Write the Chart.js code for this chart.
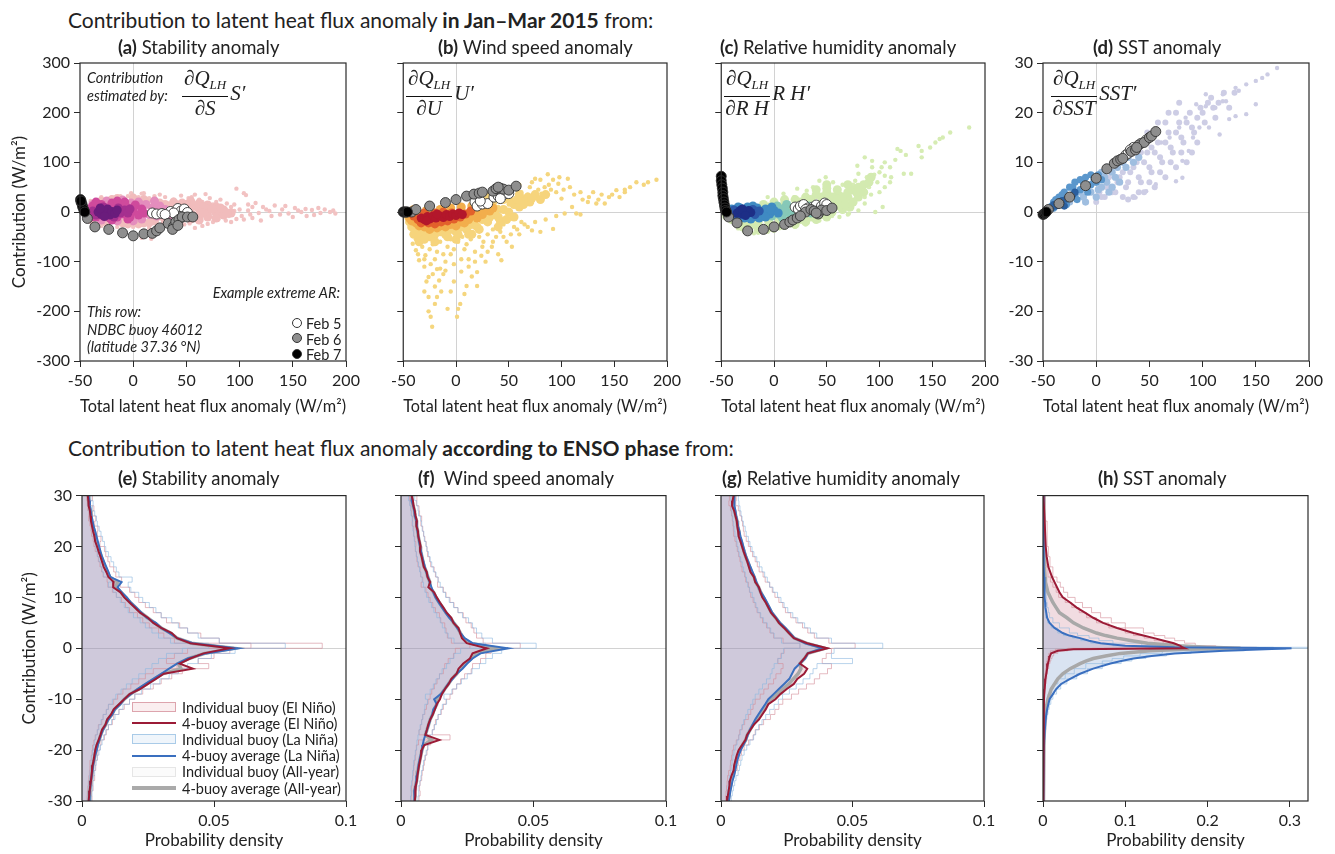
<!DOCTYPE html>
<html>
<head>
<meta charset="utf-8">
<script src="https://cdn.jsdelivr.net/npm/chart.js@4.4.1/dist/chart.umd.min.js"></script>
<style>
body { margin: 0; background: #fff; }
#fig { position: relative; width: 1335px; height: 854px; font-family: Lato, sans-serif; color: #222; overflow: hidden; }
canvas { position: absolute; }
.t { position: absolute; white-space: nowrap; line-height: 1; }
.row { font-size: 21px; }
.pt { font-size: 18.5px; }
.it { font-style: italic; font-size: 14.5px; line-height: 17.5px; }
.frac { position: absolute; display: flex; align-items: center; font-family: "Liberation Serif", "DejaVu Serif", serif; font-style: italic; font-size: 21px; }
.fr { display: inline-flex; flex-direction: column; align-items: center; margin-right: 2px; }
.num { border-bottom: 1.3px solid #111; padding: 0 2px; line-height: 22px; }
.den { line-height: 22px; }
.frac sub { font-size: 13px; vertical-align: -4px; }
.leg { position: absolute; }
.li { display: flex; align-items: center; height: 16.2px; font-size: 14.5px; white-space: nowrap; }
.sw { display: inline-block; width: 44px; margin-right: 6px; box-sizing: border-box; }
.bx { height: 10px; border: 1px solid; }
.ln { height: 0; border-top: 2px solid; }
.dot { position: absolute; width: 10px; height: 10px; border-radius: 50%; border: 1px solid #333; box-sizing: border-box; }
</style>
</head>
<body>
<div id="fig">
  <div class="t row" style="left:68px;top:9px">Contribution to latent heat flux anomaly <b>in Jan–Mar 2015</b> from:</div>
  <div class="t row" style="left:68px;top:437px">Contribution to latent heat flux anomaly <b>according to ENSO phase</b> from:</div>

  <canvas id="ca"></canvas><canvas id="cb"></canvas><canvas id="cc"></canvas><canvas id="cd"></canvas>
  <canvas id="ce"></canvas><canvas id="cf"></canvas><canvas id="cg"></canvas><canvas id="ch"></canvas>

  <div class="t pt" style="left:118px;top:38px"><b>(a)</b> Stability anomaly</div>
  <div class="t pt" style="left:438px;top:38px"><b>(b)</b> Wind speed anomaly</div>
  <div class="t pt" style="left:720px;top:38px"><b>(c)</b> Relative humidity anomaly</div>
  <div class="t pt" style="left:1093px;top:38px"><b>(d)</b> SST anomaly</div>
  <div class="t pt" style="left:118px;top:469px"><b>(e)</b> Stability anomaly</div>
  <div class="t pt" style="left:418px;top:469px"><b>(f)</b>&nbsp; Wind speed anomaly</div>
  <div class="t pt" style="left:722px;top:469px"><b>(g)</b> Relative humidity anomaly</div>
  <div class="t pt" style="left:1098px;top:469px"><b>(h)</b> SST anomaly</div>

  <div class="t it" style="left:87px;top:69px">Contribution<br>estimated by:</div>
  <div class="frac" style="left:182px;top:67px"><span class="fr"><span class="num">∂Q<sub>LH</sub></span><span class="den">∂S</span></span><span>S′</span></div>
  <div class="frac" style="left:406px;top:67px"><span class="fr"><span class="num">∂Q<sub>LH</sub></span><span class="den">∂U</span></span><span>U′</span></div>
  <div class="frac" style="left:724px;top:67px"><span class="fr"><span class="num">∂Q<sub>LH</sub></span><span class="den">∂R H</span></span><span>R H′</span></div>
  <div class="frac" style="left:1051px;top:67px"><span class="fr"><span class="num">∂Q<sub>LH</sub></span><span class="den">∂SST</span></span><span>SST′</span></div>

  <div class="t it" style="left:87px;top:303px">This row:<br>NDBC buoy 46012<br>(latitude 37.36 °N)</div>
  <div class="t it" style="right:995px;top:284px">Example extreme AR:</div>
  <span class="dot" style="left:292px;top:318px;background:#fff"></span>
  <span class="dot" style="left:292px;top:333px;background:#8f8f8f"></span>
  <span class="dot" style="left:292px;top:349px;background:#000"></span>
  <div class="t" style="left:306px;top:316px;font-size:14.5px;line-height:15.5px">Feb 5<br>Feb 6<br>Feb 7</div>

  <div class="leg" style="left:132px;top:699px">
    <div class="li"><span class="sw bx" style="border-color:#dda4ad;background:rgba(246,226,229,0.6)"></span>Individual buoy (El Niño)</div>
    <div class="li"><span class="sw ln" style="border-color:#9b1b36"></span>4-buoy average (El Niño)</div>
    <div class="li"><span class="sw bx" style="border-color:#a9cbe8;background:rgba(228,238,248,0.6)"></span>Individual buoy (La Niña)</div>
    <div class="li"><span class="sw ln" style="border-color:#3a6fbf"></span>4-buoy average (La Niña)</div>
    <div class="li"><span class="sw bx" style="border-color:#e6e6e6;background:rgba(248,248,248,0.6)"></span>Individual buoy (All-year)</div>
    <div class="li"><span class="sw ln" style="border-color:#aaaaaa;border-top-width:4px"></span>4-buoy average (All-year)</div>
  </div>
</div>

<script>
// ---------- tick values ----------
var fluxXTicks = [-50, 0, 50, 100, 150, 200];
var fluxYTicks = [-300, -200, -100, 0, 100, 200, 300];
var sstYTicks = [-30, -20, -10, 0, 10, 20, 30];
var densYTicks = [-30, -20, -10, 0, 10, 20, 30];
var densXTicks = [0, 0.05, 0.1];
var sstDensXTicks = [0, 0.1, 0.2, 0.3];

// ---------- top row: scatter clouds [total anomaly, contribution] ----------
var aScatter = [[55,30],[62,25],[68,36],[72,28],[88,17],[97,47],[106,34],[104,38],[100,5],[108,3],[112,10],[122,10],[128,2],[133,13],[140,5],[146,-3],[152,8],[158,0],[163,-8],[168,4],[176,-2],[185,0],[190,-3],[85,-10],[87,-17],[97,-14],[75,-20],[70,-24],[62,-20],[53,-23],[110,-5],[118,-2],[120,-17],[95,2],[80,5],[75,15],[17,-54],[8,-52],[-22,-37],[10,38],[5,30],[8,37],[-5,32],[20,32],[30,30],[45,33],[92,10],[82,25],[65,-28],[58,-32],[115,18],[130,-8],[150,-10],[170,-6],[180,5],
  [60,15],[65,5],[72,-5],[78,20],[83,-8],[90,-8],[95,15],[102,-8],[108,15],[112,-12],[125,5],[138,-5],[143,12],[155,3],[162,6],[174,8],[188,3],[-30,-28],[-15,-30],[0,-30],[15,-32],[28,-22],[48,-25],[58,-15],[-40,22],[-30,30],[-12,32],[-2,38],[15,28],[25,35],[38,25],[52,28],[58,35],[65,20],[80,-15],[92,-20],[104,-15]];
var aBlob = [[30,15],[30,0],[30,-15],[38,20],[38,8],[38,-8],[38,-20],[46,18],[46,5],[46,-10],[54,22],[54,10],[54,-2],[54,-14],[62,18],[62,6],[62,-6],[62,-16],[70,14],[70,2],[70,-10],[78,10],[78,-2],[78,-12],[85,4],[85,-6],[92,-2],[20,22],[20,-18],[10,25],[0,28],[-15,27],[-30,22],[-40,-15],[-25,-22],[-5,-24],[10,-22],[22,5],
  [25,18],[25,-8],[34,12],[34,-2],[42,14],[42,-14],[50,15],[50,-6],[58,12],[58,-10],[66,10],[66,-2],[74,6],[82,8],[88,-2],[15,-22],[5,-24],[-10,-22],[-20,25],[0,-10],[12,20]];
var aMidLight = [[5,20],[12,15],[18,8],[25,12],[30,5],[15,-5],[22,-8],[28,-3],[8,-14],[-2,18],[35,-8],[20,22],[0,-18],[-15,-18],[-30,-16],[-38,15],[-25,22],[-10,24]];
var aMid = [[-42,5],[-40,-5],[-38,12],[-35,-10],[-32,5],[-30,15],[-28,-8],[-25,8],[-22,-12],[-20,18],[-18,2],[-15,-10],[-12,12],[-10,-4],[-8,20],[-5,8],[-3,-10],[0,2],[2,14],[5,-6],[8,6],[-45,0],[-35,20],[-15,22],[-5,-14],[10,-2],[-40,-10],[-20,-16]];
var aDeep = [[-38,2],[-35,-6],[-12,-2],[-8,4],[-5,-2],[-14,8],[-18,-10],[-28,10],[-3,6]];
var aCore = [[-33,0],[-30,-5],[-29,4],[-26,-2],[-24,6],[-22,-6],[-20,1],[-17,-3],[-27,-9],[-31,8],[-15,4]];
var aFeb5 = [[18,-2],[22,-4],[27,-3],[35,1],[40,-6],[42,7],[45,2],[48,6],[51,-1],[44,-9],[38,-2],[30,-5]];
var aFeb6 = [[-43,-13],[-36,-30],[-23,-35],[-10,-42],[0,-48],[10,-44],[18,-43],[22,-38],[25,-32],[33,-23],[38,-29],[40,-20],[43,-15],[46,-10],[51,-10],[56,-10],[37,-35],[42,-27]];
var aFeb7 = [[-49.5,25],[-49,20],[-48,15],[-47.5,10],[-46.5,5],[-45.5,0],[-49,22]];

var bScatter = [[-24,-211],[-22.6,-231],[1,-211],[-26,-171],[-18,-171],[10,-149],[20,-149],[4,-185],[-26,-131],[-16,-138],[-15,-114],[20,-121],[43,-97],[53,-70],[72,-37],[80,-40],[92,-34],[103,-3],[114,-3],[125,20],[133,17],[141,17],[152,44],[160,40],[171,60],[190,65],[87,76],[75,67],[106,67],[97,57],[81,37],[100,27],[-41,-64],[-35,-97],[-38,-77],[-29,-87],[-10,-100],[-5,-85],[5,-95],[12,-110],[30,-80],[35,-60],[25,-70],[45,-50],[60,-45],[65,-25],[85,-15],[95,-8],[110,10],[120,25],[145,30],[160,45],[88,55],[70,50],[60,55],[-20,-150],[-5,-160],[15,-130],[-30,-110],[-12,-125],[40,-85],[-8,-195],[28,-100],[55,-30],[118,-5],[130,40],[178,55],[-33,-60],[-20,-95],[8,-75],
  [-40,-40],[-38,-55],[-32,-70],[-28,-50],[-25,-75],[-22,-65],[-18,-80],[-15,-60],[-12,-85],[-8,-70],[-5,-55],[-2,-75],[2,-60],[6,-50],[10,-65],[14,-55],[18,-80],[22,-50],[26,-60],[30,-45],[34,-70],[38,-50],[42,-40],[48,-60],[52,-45],[58,-35],[62,-20],[68,-30],[75,-20],[-36,-85],[-30,-95],[-24,-105],[-18,-115],[-10,-118],[-2,-105],[5,-120],[12,-95],[18,-100],[24,-88],[-28,-140],[-22,-125],[-14,-160],[-2,-140],[8,-165],[-30,-160],[-20,-185],[-26,-200],[2,-195],[35,-35],[45,-25],[40,10],[50,15],[62,40],[68,35],[78,45],[84,50],[90,45],[95,40],[102,45],[108,50],[112,35],[118,40],[126,30],[135,25],[138,35],[148,35],[155,30],[165,50],[182,60],[72,60],[80,65],[92,65],[98,70]];
var bBlob = [[-45,-10],[-42,-30],[-40,-45],[-35,-50],[-30,-40],[-25,-50],[-20,-45],[-15,-40],[-10,-45],[-5,-35],[0,-40],[5,-30],[10,-35],[15,-25],[20,-30],[25,-15],[30,-20],[35,-5],[40,-10],[45,5],[50,0],[55,15],[60,10],[65,25],[70,20],[45,25],[35,20],[25,10],[30,30],[50,30],[60,35],[75,35],[-35,-60],[-20,-60],[0,-55],[15,-45],[40,-30],[55,-10],
  [-44,-20],[-40,-25],[-36,-35],[-30,-55],[-26,-35],[-20,-35],[-12,-30],[-8,-50],[2,-45],[8,-25],[12,-45],[18,-15],[22,-35],[28,0],[32,-10],[38,5],[42,-18],[48,-15],[52,20],[58,25],[64,15],[68,30],[72,28],[80,25],[85,35],[20,0],[10,-15],[0,-25]];
var bMidLight = [[-45,-5],[-42,-18],[-40,5],[-35,-28],[-30,-30],[-22,-30],[-15,-28],[-5,-25],[5,-20],[12,-15],[18,-5],[22,5],[28,10],[15,12],[5,10],[-5,8],[-15,5],[-28,3],[-38,-2],[10,-8],[25,-5],[32,2],
  [-44,-12],[-38,-22],[-32,-10],[-25,-35],[-18,-32],[-10,-30],[0,-28],[8,-22],[15,-5],[20,-12],[26,2],[30,12],[35,8]];
var bMid = [[-40,-8],[-36,-15],[-33,-22],[-30,-2],[-26,-22],[-20,-24],[-14,-20],[-8,-18],[-2,-14],[4,-10],[9,-4],[14,2],[-12,0],[-4,-2],[2,-4],[-20,-2],[-42,-2]];
var bCore = [[-33,-12],[-30,-15],[-27,-9],[-25,-14],[-22,-8],[-19,-12],[-15,-8],[-12,-11],[-9,-5],[-6,-9],[-3,-4],[0,-7],[3,-2],[6,-5],[-28,-18],[-18,-4]];
var bFeb5 = [[18,20],[20,12],[25,16],[30,17],[36,30],[40,32],[45,35],[50,37],[42,27],[23,22]];
var bFeb6 = [[-42,0],[-38,5],[-25,12],[-10,19],[0,25],[10,32],[17,36],[22,38],[25,40],[35,42],[38,47],[42,48],[45,46],[50,44],[57,52],[40,50]];
var bFeb7 = [[-50,0],[-49,0],[-48,0],[-47,0],[-46,0]];

var cScatter = [[185,170],[167,160],[157,147],[153,140],[148,130],[140,123],[137,133],[130,77],[123,77],[117,127],[120,123],[111,70],[105,73],[102,90],[93,103],[93,90],[86,110],[79,93],[77,63],[80,77],[96,0],[103,10],[86,30],[83,43],[71,-3],[68,13],[63,37],[56,60],[49,70],[43,63],[37,50],[31,43],[22,47],[19,30],[9,37],[-6,30],[-12,10],[-25,-43],[-19,-43],[-34,-33],[-6,-40],[43,-17],[62,-10],[80,3],[86,17],[51,30],
  [100,80],[110,90],[95,75],[88,70],[105,100],[115,105],[125,115],[98,60],[90,50],[75,55],[65,55],[110,60],[140,110],[160,150],[100,40],[92,35],[105,50],[-28,-40],[-15,-42],[0,-38],[10,-32],[20,-30],[30,-25],[55,-8],[70,-5]];
var cBlob = [[-35,-20],[-30,-30],[-25,-35],[-15,-35],[-5,-32],[5,-28],[15,-22],[25,-15],[35,-10],[45,-5],[55,0],[65,5],[72,10],[-10,15],[0,20],[10,25],[20,25],[30,30],[40,35],[50,40],[60,35],[70,30],[45,20],[55,20],[65,20],[35,15],[25,10],[15,5],[60,45],[75,45],[70,55],[50,55],[40,45],[80,30],[-20,-25],[30,-20],[20,-25],
  [-25,-25],[-15,-20],[-5,-20],[5,-15],[15,-10],[25,-5],[35,0],[45,8],[55,10],[62,12],[68,15],[75,20],[78,40],[85,40],[65,30],[55,30],[45,30],[35,25],[25,20],[10,15],[5,10],[-5,10],[60,25],[80,50],[85,55],[90,60],[92,70],[70,40],[50,48],[-30,-25],[-40,-15],[-45,-8],[40,-15],[50,-10]];
var cMidLight = [[0,5],[5,-5],[10,8],[15,-2],[20,10],[25,0],[30,8],[35,-2],[40,8],[45,3],[12,15],[28,15],[-2,-8],[18,-10],[8,-12],
  [-5,2],[3,12],[18,0],[33,12],[38,0],[22,-5],[10,0],[42,-3],[-8,-3],[50,8]];
var cMid = [[-45,0],[-42,-6],[-40,6],[-36,-10],[-32,8],[-28,-12],[-25,10],[-20,-10],[-16,8],[-12,-6],[-8,6],[-4,-4],[0,3],[-18,0],[-10,0],[-30,0],[-2,10],[-14,-12],
  [-38,-2],[-34,10],[-22,-14],[-8,-10],[-20,12],[-44,5],[-3,4],[4,-2]];
var cDeep = [[-38,4],[-34,-8],[-20,5],[-18,-5],[-14,2],[-40,-3]];
var cCore = [[-35,-2],[-32,3],[-30,-4],[-28,1],[-26,-3],[-24,3],[-22,-1],[-30,6],[-27,-7]];
var cFeb5 = [[20,10],[23,6],[25,12],[28,15],[32,8],[37,10],[40,14],[45,12],[48,18],[50,15],[30,5]];
var cFeb6 = [[-43,-10],[-35,-22],[-25,-38],[-10,-35],[0,-30],[10,-25],[15,-20],[18,-16],[22,-12],[30,0],[35,5],[38,2],[42,-4],[45,4],[50,3],[55,8],[40,-2],[25,-8]];
var cFeb7 = [[-50,72],[-50,63],[-49.5,55],[-49,48],[-48.5,40],[-48.5,33],[-48,27],[-47.5,20],[-47,14],[-46.5,8],[-46,3],[-45,0]];

var dScatter = [[170,29],[161,27.7],[156,27],[150,26.4],[141,25.7],[131,25],[119,23.7],[119,22.3],[122,22.3],[103,23.7],[103,21.3],[94,21.7],[97,17],[106,17],[125,18.7],[131,19.3],[141,19.7],[150,21.7],[81,6.9],[75,6.2],[84,19],[78,17],[69,15],[61,14],[87,12.3],[81,10.3],[47,4.2],[37,2.9],[56,5.6],[91,15],[112,21],[134,24.4],[116,15.6]];
var dBlob = [[5,3],[10,5],[15,4],[20,6],[25,8],[30,6],[35,9],[40,7],[45,10],[50,9],[55,12],[60,11],[65,14],[70,13],[75,16],[80,15],[85,18],[90,17],[95,19],[100,20],[105,22],[110,21],[45,14],[55,16],[65,18],[75,20],[40,4],[50,6],[60,8],[70,10],[80,12],[35,12],[25,3],
  [0,2],[3,4],[8,3],[12,7],[18,4],[22,7],[28,5],[32,8],[38,10],[42,6],[48,12],[52,8],[58,14],[62,10],[68,16],[72,12],[78,18],[82,14],[88,20],[92,16],[98,21],[102,18],[108,23],[112,19],[115,22],[120,24],[125,21],[130,24],[85,10],[90,12],[95,14],[65,7],[75,9],[55,5],[45,4],[35,3],[30,2.5],[58,18],[68,20],[78,22],[48,16],[42,12],[52,13]];
var dMidLight = [[-10,2],[-5,4],[0,3],[0,6],[5,5],[5,8],[10,6],[10,9],[15,8],[20,9],[25,10],[15,5],[-15,4],[30,11],
  [-12,3],[-8,5],[2,4.5],[8,7],[12,4],[18,7],[22,6],[28,9],[35,10],[40,11],[-20,3],[-25,2]];
var dMid = [[-45,0.5],[-40,0.8],[-40,2],[-35,1.5],[-35,3],[-30,2],[-30,4],[-25,3],[-25,5],[-20,3.5],[-20,6],[-15,4.5],[-15,6.5],[-10,5],[-10,7],[-5,5.5],[-5,7.5],[0,6],[-28,1.5],[-18,2.5],
  [-42,1.2],[-38,2.5],[-32,3.5],[-22,5],[-12,6],[-8,4],[-2,6.5],[2,7.5],[5,6.5]];
var dCore = [[-45,0.3],[-42,0.8],[-38,1.2],[-35,1.8],[-32,2.3],[-28,2.6],[-25,3],[-22,3.5],[-30,1.2],[-40,1.5],[-20,4]];
var dFeb5 = [[28,11.5],[30,11.8],[35,13],[42,13.8],[47,14.5],[32,12.5]];
var dFeb6 = [[-45,0.5],[-35,1.7],[-25,3],[-10,5.3],[0,6.8],[10,8.7],[17,9.8],[20,10.3],[23,10.6],[25,10.8],[33,12.2],[37,12.5],[40,13.5],[45,14],[50,15],[52,15.3],[56,16.2],[38,13]];
var dFeb7 = [[-50,-0.5],[-49,-0.4],[-48,-0.2],[-47,0]];

// ---------- bottom row: probability densities ----------
var contribBins = [30,29,28,27,26,25,24,23,22,21,20,19,18,17,16,15,14,13,12,11,10,9,8,7,6,5,4,3,2,1,0,-1,-2,-3,-4,-5,-6,-7,-8,-9,-10,-11,-12,-13,-14,-15,-16,-17,-18,-19,-20,-21,-22,-23,-24,-25,-26,-27,-28,-29,-30];

var eNino = [.0022,.0024,.0025,.0030,.0032,.0034,.0038,.0042,.0047,.0050, .0057,.0063,.0070,.0076,.0082,.0092,.0100,.0120,.0118,.0146, .0160,.0180,.0200,.0220,.0250,.0270,.0300,.0340,.0360,.0410, .0560, .0460,.0410,.0370,.0420,.0310,.0280,.0250,.0220,.0180,.0160, .0140,.0120,.0110,.0095,.0089,.0076,.0070,.0063,.0055,.0050, .0047,.0044,.0040,.0038,.0036,.0034,.0031,.0029,.0027,.0025];
var eNina = [.0025,.0028,.0030,.0033,.0036,.0040,.0044,.0050,.0055,.0060, .0065,.0070,.0076,.0084,.0092,.0100,.0108,.0150,.0135,.0150, .0170,.0185,.0205,.0225,.0245,.0280,.0300,.0330,.0360,.0420, .0590, .0470,.0400,.0360,.0330,.0300,.0270,.0240,.0210,.0185,.0160, .0145,.0125,.0115,.0100,.0090,.0080,.0072,.0066,.0060,.0056, .0050,.0046,.0042,.0040,.0037,.0034,.0032,.0030,.0029,.0028];
var eAll = [.0024,.0026,.0028,.0032,.0034,.0037,.0041,.0046,.0051,.0055, .0061,.0067,.0073,.0080,.0087,.0096,.0104,.0135,.0127,.0148, .0165,.0183,.0203,.0223,.0248,.0275,.0300,.0335,.0360,.0415, .0575, .0465,.0405,.0365,.0375,.0305,.0275,.0245,.0215,.0183,.0160, .0143,.0123,.0113,.0098,.0090,.0078,.0071,.0065,.0058,.0053, .0049,.0045,.0041,.0039,.0037,.0034,.0032,.0030,.0028,.0027];
var eNinoBuoyA = [.0030,.0040,.0028,.0045,.0040,.0052,.0048,.0060,.0058,.0072, .0068,.0085,.0090,.0098,.0105,.0120,.0128,.0150,.0145,.0180, .0200,.0215,.0240,.0270,.0300,.0320,.0370,.0400,.0450,.0520, .0910, .0560,.0500,.0440,.0480,.0380,.0340,.0300,.0270,.0230,.0200, .0180,.0160,.0140,.0120,.0115,.0100,.0092,.0085,.0072,.0068, .0060,.0058,.0050,.0052,.0045,.0048,.0040,.0042,.0036,.0038];
var eNinoBuoyB = [.0015,.0018,.0020,.0022,.0026,.0025,.0030,.0034,.0036,.0042, .0045,.0050,.0058,.0062,.0068,.0074,.0080,.0095,.0098,.0115, .0130,.0150,.0165,.0180,.0210,.0230,.0255,.0290,.0310,.0350, .0640, .0400,.0350,.0320,.0360,.0270,.0240,.0215,.0185,.0155,.0135, .0120,.0100,.0092,.0080,.0075,.0062,.0058,.0050,.0045,.0040, .0038,.0035,.0030,.0030,.0028,.0026,.0024,.0022,.0020,.0019];
var eNinaBuoyA = [.0035,.0034,.0042,.0040,.0048,.0055,.0058,.0065,.0072,.0078, .0085,.0090,.0100,.0110,.0120,.0130,.0140,.0190,.0175,.0185, .0215,.0230,.0255,.0280,.0300,.0340,.0365,.0400,.0440,.0520, .0770, .0580,.0490,.0440,.0400,.0365,.0330,.0295,.0260,.0225,.0200, .0180,.0155,.0140,.0125,.0112,.0100,.0090,.0082,.0076,.0070, .0064,.0058,.0054,.0050,.0048,.0044,.0042,.0040,.0038,.0036];
var eNinaBuoyB = [.0018,.0022,.0022,.0026,.0028,.0030,.0034,.0038,.0042,.0046, .0050,.0054,.0058,.0064,.0070,.0076,.0082,.0115,.0100,.0118, .0130,.0145,.0160,.0175,.0195,.0220,.0240,.0265,.0290,.0335, .0480, .0380,.0320,.0290,.0265,.0240,.0215,.0190,.0168,.0148,.0128, .0115,.0100,.0092,.0080,.0072,.0064,.0058,.0052,.0048,.0044, .0040,.0037,.0034,.0032,.0030,.0028,.0026,.0024,.0023,.0022];

var fNino = [.0040,.0045,.0047,.0052,.0055,.0060,.0058,.0064,.0065,.0070, .0074,.0072,.0078,.0082,.0086,.0097,.0100,.0110,.0103,.0125, .0135,.0147,.0160,.0172,.0190,.0198,.0217,.0223,.0230,.0248, .0324, .0270,.0260,.0235,.0217,.0210,.0190,.0180,.0166,.0154,.0147, .0135,.0128,.0120,.0110,.0103,.0098,.0092,.0145,.0088,.0078, .0076,.0072,.0068,.0065,.0062,.0060,.0056,.0053,.0055,.0052];
var fNina = [.0042,.0040,.0046,.0050,.0052,.0058,.0060,.0062,.0066,.0068, .0072,.0076,.0080,.0085,.0090,.0095,.0102,.0108,.0115,.0122, .0130,.0142,.0155,.0168,.0182,.0200,.0212,.0225,.0240,.0270, .0405, .0300,.0270,.0250,.0232,.0210,.0195,.0178,.0165,.0150,.0125, .0135,.0122,.0118,.0110,.0105,.0098,.0092,.0086,.0082,.0080, .0074,.0070,.0066,.0064,.0060,.0058,.0055,.0050,.0052,.0050];
var fAll = [.0041,.0042,.0046,.0051,.0053,.0059,.0059,.0063,.0065,.0069, .0073,.0074,.0079,.0083,.0088,.0096,.0101,.0109,.0109,.0123, .0132,.0144,.0157,.0170,.0186,.0199,.0214,.0224,.0235,.0259, .0365, .0285,.0265,.0242,.0225,.0210,.0192,.0179,.0165,.0152,.0136, .0135,.0125,.0119,.0110,.0104,.0098,.0092,.0115,.0085,.0079, .0075,.0071,.0067,.0064,.0061,.0059,.0055,.0051,.0053,.0051];
var fNinoBuoyA = [.0055,.0060,.0058,.0068,.0070,.0078,.0075,.0082,.0085,.0090, .0095,.0098,.0100,.0108,.0112,.0125,.0130,.0140,.0138,.0160, .0170,.0185,.0200,.0215,.0235,.0245,.0265,.0275,.0285,.0310, .0450, .0340,.0320,.0300,.0270,.0265,.0240,.0225,.0210,.0195,.0185, .0170,.0160,.0152,.0140,.0130,.0125,.0118,.0185,.0112,.0100, .0098,.0092,.0088,.0085,.0080,.0078,.0072,.0070,.0072,.0068];
var fNinoBuoyB = [.0028,.0032,.0034,.0038,.0040,.0044,.0042,.0048,.0048,.0052, .0056,.0054,.0058,.0060,.0064,.0072,.0074,.0082,.0076,.0094, .0102,.0110,.0120,.0130,.0145,.0150,.0165,.0170,.0175,.0190, .0260, .0205,.0198,.0178,.0165,.0160,.0145,.0136,.0126,.0116,.0110, .0102,.0096,.0090,.0082,.0078,.0074,.0068,.0110,.0066,.0058, .0056,.0054,.0050,.0048,.0046,.0044,.0042,.0040,.0040,.0038];
var fNinaBuoyA = [.0056,.0052,.0060,.0064,.0066,.0074,.0078,.0080,.0086,.0088, .0094,.0098,.0104,.0110,.0116,.0122,.0132,.0140,.0148,.0158, .0168,.0182,.0198,.0215,.0232,.0255,.0270,.0285,.0305,.0345, .0510, .0380,.0345,.0320,.0296,.0268,.0250,.0228,.0210,.0192,.0162, .0172,.0156,.0150,.0140,.0134,.0126,.0118,.0110,.0105,.0102, .0095,.0090,.0085,.0082,.0077,.0075,.0071,.0065,.0067,.0064];
var fNinaBuoyB = [.0030,.0028,.0033,.0036,.0038,.0042,.0044,.0045,.0048,.0050, .0052,.0055,.0058,.0062,.0066,.0070,.0075,.0080,.0085,.0090, .0096,.0105,.0115,.0124,.0135,.0148,.0156,.0166,.0178,.0200, .0320, .0225,.0200,.0185,.0172,.0155,.0145,.0132,.0122,.0110,.0092, .0100,.0090,.0088,.0082,.0078,.0072,.0068,.0064,.0060,.0059, .0054,.0052,.0048,.0047,.0044,.0043,.0040,.0037,.0038,.0036];

var gNino = [.0048,.0044,.0042,.0050,.0055,.0060,.0062,.0065,.0067,.0074, .0080,.0086,.0093,.0100,.0106,.0112,.0125,.0130,.0144,.0150, .0157,.0170,.0180,.0190,.0207,.0220,.0240,.0258,.0277,.0328, .0405, .0330,.0316,.0300,.0328,.0316,.0290,.0277,.0250,.0226,.0207, .0180,.0170,.0157,.0144,.0125,.0112,.0099,.0093,.0080,.0067, .0060,.0055,.0050,.0048,.0040,.0034,.0032,.0029,.0026,.0023];
var gNina = [.0050,.0050,.0052,.0055,.0058,.0062,.0065,.0070,.0074,.0080, .0085,.0090,.0096,.0104,.0112,.0120,.0128,.0135,.0142,.0152, .0165,.0175,.0185,.0195,.0210,.0225,.0245,.0262,.0280,.0320, .0385, .0330,.0320,.0300,.0280,.0270,.0260,.0240,.0220,.0200,.0180, .0168,.0155,.0142,.0130,.0120,.0110,.0102,.0095,.0085,.0075, .0068,.0062,.0058,.0054,.0050,.0044,.0040,.0036,.0033,.0030];
var gAll = [.0049,.0047,.0047,.0052,.0056,.0061,.0063,.0068,.0070,.0077, .0082,.0088,.0094,.0102,.0109,.0116,.0126,.0132,.0143,.0151, .0161,.0172,.0182,.0192,.0208,.0222,.0242,.0260,.0278,.0324, .0395, .0330,.0318,.0300,.0304,.0293,.0275,.0258,.0235,.0213,.0193, .0174,.0162,.0150,.0137,.0122,.0111,.0100,.0094,.0082,.0071, .0064,.0058,.0054,.0051,.0045,.0039,.0036,.0032,.0030,.0027];
var gNinoBuoyA = [.0062,.0058,.0056,.0066,.0072,.0078,.0082,.0085,.0088,.0096, .0104,.0112,.0120,.0130,.0138,.0145,.0160,.0168,.0185,.0195, .0205,.0220,.0235,.0245,.0265,.0285,.0310,.0330,.0355,.0410, .0510, .0420,.0400,.0385,.0420,.0405,.0375,.0355,.0325,.0295,.0268, .0235,.0220,.0205,.0188,.0162,.0146,.0130,.0122,.0105,.0088, .0078,.0072,.0066,.0062,.0052,.0045,.0042,.0038,.0034,.0030];
var gNinoBuoyB = [.0034,.0032,.0030,.0036,.0040,.0043,.0045,.0047,.0048,.0053, .0058,.0062,.0067,.0072,.0076,.0080,.0090,.0094,.0104,.0108, .0113,.0122,.0130,.0137,.0149,.0158,.0173,.0186,.0200,.0236, .0300, .0240,.0228,.0216,.0236,.0228,.0209,.0200,.0180,.0163,.0149, .0130,.0122,.0113,.0104,.0090,.0081,.0071,.0067,.0058,.0048, .0043,.0040,.0036,.0035,.0029,.0025,.0023,.0021,.0019,.0017];
var gNinaBuoyA = [.0064,.0066,.0068,.0072,.0076,.0080,.0085,.0092,.0096,.0104, .0110,.0118,.0125,.0136,.0146,.0156,.0166,.0176,.0185,.0198, .0215,.0228,.0240,.0254,.0273,.0292,.0318,.0340,.0364,.0420, .0615, .0430,.0420,.0500,.0365,.0350,.0338,.0312,.0286,.0260,.0234, .0218,.0202,.0185,.0170,.0156,.0143,.0132,.0124,.0110,.0098, .0088,.0080,.0075,.0070,.0065,.0057,.0052,.0047,.0043,.0039];
var gNinaBuoyB = [.0036,.0036,.0038,.0040,.0042,.0045,.0047,.0050,.0053,.0058, .0061,.0065,.0069,.0075,.0081,.0086,.0092,.0097,.0102,.0109, .0119,.0126,.0133,.0140,.0151,.0162,.0176,.0189,.0202,.0230, .0300, .0238,.0230,.0216,.0202,.0194,.0187,.0173,.0158,.0144,.0130, .0121,.0112,.0102,.0094,.0086,.0079,.0073,.0068,.0061,.0054, .0049,.0045,.0042,.0039,.0036,.0032,.0029,.0026,.0024,.0022];

var sstBins = [30,25,20,18,16,14,13,12,11,10,9,8,7,6,5,4,3,2.5,2,1.5,1,0.5,0.2,0,-0.2,-0.5,-1,-1.5,-2,-2.5,-3,-4,-5,-6,-7,-8,-9,-10,-11,-12,-13,-14,-16,-18,-20,-25,-30];
var hNino = [.0005,.0020,.0033,.0045,.0065,.0110,.0140,.0170,.0200,.0240, .0330,.0410,.0510,.0610,.0730,.0900,.1100,.1220,.1350,.1470, .1590,.1670,.1690,.1720,.0370,.0180,.0100,.0085,.0075,.0068, .0060,.0050,.0040,.0030,.0025,.0020,.0015,.0012,.0010,.0008, .0006,.0005,.0004,.0003,.0003,.0002,.0001];
var hNina = [.0002,.0005,.0008,.0010,.0012,.0014,.0015,.0018,.0020,.0023, .0026,.0030,.0040,.0050,.0080,.0140,.0240,.0320,.0450,.0560, .0700,.1000,.1600,.3020,.2700,.2200,.1600,.1320,.1100,.0950, .0820,.0610,.0450,.0330,.0220,.0160,.0120,.0080,.0065,.0050, .0040,.0032,.0022,.0015,.0010,.0005,.0003];
var hAll = [.0003,.0008,.0012,.0015,.0018,.0025,.0030,.0045,.0060,.0090, .0120,.0160,.0200,.0290,.0370,.0490,.0650,.0760,.0900,.1080, .1270,.1650,.2000,.2400,.1700,.1300,.0940,.0760,.0610,.0520, .0450,.0330,.0240,.0180,.0140,.0100,.0080,.0060,.0048,.0040, .0030,.0025,.0018,.0012,.0010,.0005,.0003];
var hNinoBuoyA = [.0010,.0030,.0050,.0065,.0085,.0120,.0170,.0210,.0250,.0300, .0390,.0480,.0590,.0700,.0830,.1000,.1220,.1350,.1480,.1600, .1720,.1850,.2100,.2600,.0600,.0300,.0180,.0130,.0110,.0095, .0085,.0070,.0055,.0045,.0035,.0030,.0022,.0018,.0015,.0012, .0010,.0008,.0006,.0005,.0004,.0003,.0002];
var hNinoBuoyB = [.0003,.0010,.0020,.0028,.0040,.0060,.0090,.0120,.0160,.0190, .0270,.0350,.0440,.0530,.0650,.0800,.1000,.1100,.1230,.1350, .1460,.1550,.1600,.1900,.0300,.0150,.0090,.0070,.0060,.0052, .0045,.0038,.0030,.0022,.0018,.0014,.0010,.0008,.0007,.0005, .0004,.0003,.0003,.0002,.0002,.0001,.0001];
var hNinaBuoyA = [.0005,.0010,.0015,.0018,.0022,.0025,.0028,.0032,.0036,.0040, .0045,.0050,.0065,.0080,.0120,.0200,.0320,.0420,.0560,.0680, .0850,.1200,.1900,.3220,.2950,.2450,.1800,.1500,.1250,.1080, .0950,.0720,.0540,.0410,.0290,.0215,.0165,.0120,.0095,.0075, .0060,.0048,.0035,.0025,.0018,.0010,.0006];
var hNinaBuoyB = [.0001,.0002,.0004,.0005,.0006,.0008,.0009,.0010,.0012,.0014, .0016,.0018,.0025,.0032,.0055,.0100,.0180,.0250,.0360,.0460, .0580,.0850,.1400,.2800,.2500,.2000,.1450,.1180,.0980,.0840, .0720,.0520,.0380,.0270,.0180,.0125,.0090,.0060,.0048,.0036, .0028,.0022,.0015,.0010,.0007,.0003,.0002];

// ---------- shared bits ----------
Chart.defaults.font.family = 'Lato';
Chart.defaults.color = '#222';

const frame = {
  id: 'frame',
  afterDraw(chart) {
    const { ctx, chartArea: a } = chart;
    ctx.save();
    ctx.strokeStyle = '#2a2a2a';
    ctx.lineWidth = 1.2;
    ctx.strokeRect(a.left, a.top, a.right - a.left, a.bottom - a.top);
    ctx.restore();
  }
};

function axis(o) {
  return {
    type: 'linear',
    min: o.min,
    max: o.max,
    afterFit: s => { if (s.isHorizontal()) s.height = o.size; else s.width = o.size; },
    afterBuildTicks: s => { s.ticks = o.ticks.map(v => ({ value: v })); },
    border: { display: false },
    grid: {
      color: c => (o.zero && c.tick && c.tick.value === 0) ? '#d2d2d2' : 'rgba(0,0,0,0)',
      tickColor: '#2a2a2a',
      tickLength: 6,
      lineWidth: 1
    },
    ticks: {
      callback: v => o.labels ? String(v) : '',
      font: { size: 16 },
      color: '#222',
      padding: 4,
      maxRotation: 0,
      autoSkip: false
    },
    title: {
      display: !!o.title,
      text: o.title,
      font: { size: 17 },
      color: '#222',
      padding: { top: 2, bottom: 2 }
    }
  };
}

function place(id, b) {
  const c = document.getElementById(id);
  c.width = b.yw + b.w + b.padR;
  c.height = b.padT + b.h + b.xh;
  c.style.left = (b.left - b.yw) + 'px';
  c.style.top = (b.top - b.padT) + 'px';
  return c;
}

function baseOptions(b) {
  return {
    responsive: false,
    animation: false,
    devicePixelRatio: 1,
    layout: { padding: { top: b.padT, right: b.padR, left: 0, bottom: 0 } },
    plugins: { legend: { display: false }, tooltip: { enabled: false } },
    events: []
  };
}

var arColors = ['#ffffff', '#8e8e8e', '#000000'];

function scatterPanel(id, b, layers, ar, y) {
  const sets = layers.map(L => ({
    data: L[0], pointBackgroundColor: L[1], pointBorderWidth: 0, pointRadius: L[2], pointBorderColor: L[1]
  }));
  ar.forEach((d, i) => sets.push({
    data: d, pointBackgroundColor: arColors[i], pointBorderColor: '#333', pointBorderWidth: 0.9, pointRadius: 5, clip: false
  }));
  sets.forEach((s, i) => { s.order = sets.length - i; });
  const opt = baseOptions(b);
  opt.scales = {
    x: axis({ min: -50, max: 200, ticks: fluxXTicks, labels: true, zero: true, size: b.xh, title: 'Total latent heat flux anomaly (W/m²)' }),
    y: axis({ min: y.min, max: y.max, ticks: y.ticks, labels: y.labels, zero: true, size: b.yw, title: y.title })
  };
  return new Chart(place(id, b), { type: 'scatter', data: { datasets: sets }, options: opt, plugins: [frame] });
}

function curve(bins, vals) { return bins.map((y, i) => ({ x: vals[i], y: y })); }

function densityPanel(id, b, bins, d, x, yTitle) {
  const ln = (vals, color, w, extra) => Object.assign({
    data: curve(bins, vals), borderColor: color, borderWidth: w, pointRadius: 0, fill: false, tension: 0
  }, extra || {});
  const sets = [
    ln(d.nino, 'rgba(0,0,0,0)', 1, { fill: 'origin', backgroundColor: 'rgba(205,125,145,0.27)' }),
    ln(d.nina, 'rgba(0,0,0,0)', 1, { fill: 'origin', backgroundColor: 'rgba(115,150,205,0.27)' }),
    ln(d.ninoA, 'rgba(212,140,152,0.6)', 1, { stepped: true }),
    ln(d.ninoB, 'rgba(212,140,152,0.6)', 1, { stepped: true }),
    ln(d.ninaA, 'rgba(140,184,224,0.6)', 1, { stepped: true }),
    ln(d.ninaB, 'rgba(140,184,224,0.6)', 1, { stepped: true }),
    ln(d.all, '#a8a8a8', 3.5),
    ln(d.nina, '#3a6fbf', 2),
    ln(d.nino, '#9b1b36', 2)
  ];
  sets.forEach((s, i) => { s.order = sets.length - i; });
  const opt = baseOptions(b);
  opt.indexAxis = 'y';
  opt.scales = {
    x: axis({ min: 0, max: x.max, ticks: x.ticks, labels: true, zero: false, size: b.xh, title: 'Probability density' }),
    y: axis({ min: -30, max: 30, ticks: densYTicks, labels: !!yTitle, zero: true, size: b.yw, title: yTitle })
  };
  return new Chart(place(id, b), { type: 'line', data: { datasets: sets }, options: opt, plugins: [frame] });
}

// ---------- top row ----------
var topRow = { top: 63, h: 298, padT: 14, padR: 20, xh: 58 };
var fluxY = { min: -300, max: 300, ticks: fluxYTicks };

scatterPanel('ca', Object.assign({ left: 80, w: 266, yw: 73 }, topRow),
  [[aScatter, '#f2c2c2', 2.2], [aBlob, '#f1bcbc', 4.5], [aMidLight, '#e48dbd', 4.5], [aMid, '#cf4a9c', 4.5], [aDeep, '#a5308f', 4.5], [aCore, '#6a1c7c', 4.5]],
  [aFeb5, aFeb6, aFeb7], Object.assign({ labels: true, title: 'Contribution (W/m²)' }, fluxY));

scatterPanel('cb', Object.assign({ left: 401, w: 266, yw: 14 }, topRow),
  [[bScatter, '#f5d67e', 2.2], [bBlob, '#f6d47c', 4.5], [bMidLight, '#f2ae4c', 4.5], [bMid, '#e3612b', 4.5], [bCore, '#b3172b', 4.5]],
  [bFeb5, bFeb6, bFeb7], Object.assign({ labels: false }, fluxY));

scatterPanel('cc', Object.assign({ left: 719, w: 266, yw: 14 }, topRow),
  [[cScatter, '#d6ecb3', 2.2], [cBlob, '#d3eab0', 4.5], [cMidLight, '#86c8b8', 4.5], [cMid, '#3f8ac2', 4.5], [cDeep, '#2c58a8', 4.5], [cCore, '#1d2e86', 4.5]],
  [cFeb5, cFeb6, cFeb7], Object.assign({ labels: false }, fluxY));

scatterPanel('cd', Object.assign({ left: 1043, w: 266, yw: 44 }, topRow),
  [[dScatter, '#cccce4', 2.2], [dBlob, '#cdcde5', 3], [dMidLight, '#9fbee0', 3.6], [dMid, '#5b97cc', 3.6], [dCore, '#2b5f9e', 3.6]],
  [dFeb5, dFeb6, dFeb7], { min: -30, max: 30, ticks: sstYTicks, labels: true });

// ---------- bottom row ----------
var botRow = { top: 494, h: 307, padT: 12, padR: 20, xh: 52 };
var densX = { max: 0.1, ticks: densXTicks };

densityPanel('ce', Object.assign({ left: 82, w: 264, yw: 65 }, botRow), contribBins,
  { nino: eNino, nina: eNina, all: eAll, ninoA: eNinoBuoyA, ninoB: eNinoBuoyB, ninaA: eNinaBuoyA, ninaB: eNinaBuoyB },
  densX, 'Contribution (W/m²)');
densityPanel('cf', Object.assign({ left: 401, w: 265, yw: 14 }, botRow), contribBins,
  { nino: fNino, nina: fNina, all: fAll, ninoA: fNinoBuoyA, ninoB: fNinoBuoyB, ninaA: fNinaBuoyA, ninaB: fNinaBuoyB },
  densX, '');
densityPanel('cg', Object.assign({ left: 721, w: 263, yw: 14 }, botRow), contribBins,
  { nino: gNino, nina: gNina, all: gAll, ninoA: gNinoBuoyA, ninoB: gNinoBuoyB, ninaA: gNinaBuoyA, ninaB: gNinaBuoyB },
  densX, '');
densityPanel('ch', Object.assign({ left: 1043, w: 265, yw: 14, padR: 22 }, botRow), sstBins,
  { nino: hNino, nina: hNina, all: hAll, ninoA: hNinoBuoyA, ninoB: hNinoBuoyB, ninaA: hNinaBuoyA, ninaB: hNinaBuoyB },
  { max: 0.322, ticks: sstDensXTicks }, '');
</script>
</body>
</html>
